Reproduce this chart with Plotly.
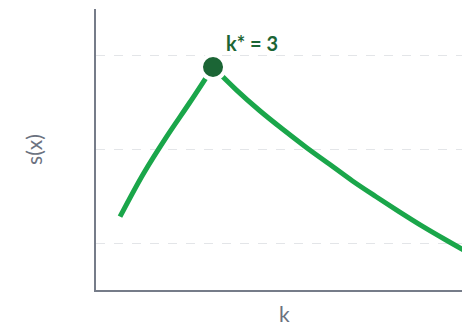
import plotly.graph_objects as go

# Score s(x), rising to the best k and falling after it
k_rise = [2.0, 2.25, 2.5, 2.75, 3.0]
s_rise = [0.256, 0.347, 0.426, 0.499, 0.5745]
k_fall = [3.0, 3.25, 3.5, 3.75, 4.0, 4.25, 4.5, 4.75, 5.0, 5.25, 5.5, 5.75]
s_fall = [0.5745, 0.526, 0.482, 0.442, 0.404, 0.368, 0.332, 0.299, 0.267, 0.236, 0.207, 0.179]

k_best = 3
s_best = 0.5745
grid_vals = [0.2, 0.4, 0.6]

LINE = "#1aa64a"
DARK = "#1b6535"
GREY = "#6b7280"
FONT = "Lato"

fig = go.Figure()
for kx, sy in ((k_rise, s_rise), (k_fall, s_fall)):
    fig.add_trace(go.Scatter(
        x=kx, y=sy, mode="lines",
        line=dict(color=LINE, width=5, shape="spline", smoothing=1.0),
        hoverinfo="skip", showlegend=False,
    ))

fig.add_trace(go.Scatter(
    x=[k_best], y=[s_best], mode="markers",
    marker=dict(size=24, color=DARK, line=dict(color="white", width=4)),
    showlegend=False, cliponaxis=False,
))

fig.add_annotation(
    x=k_best, y=s_best, text="<b>k* = 3</b>", showarrow=False,
    xanchor="left", yanchor="middle", xshift=11, yshift=24,
    font=dict(family=FONT, size=20, color=DARK),
)
fig.add_annotation(
    x=0.514, y=-0.1317, xref="paper", yref="paper", text="k", showarrow=False,
    xanchor="center", yanchor="bottom", borderpad=0,
    font=dict(family=FONT, size=21, color=GREY),
)

fig.update_layout(
    width=462, height=327,
    margin=dict(l=96, r=0, t=9, b=37),
    paper_bgcolor="white", plot_bgcolor="white",
    font=dict(family=FONT, color=GREY),
)
fig.update_xaxes(
    range=[1.742, 5.677], showgrid=False, zeroline=False,
    showticklabels=False, ticks="",
    showline=True, linecolor="#767c89", linewidth=2,
)
fig.update_yaxes(
    range=[0.1, 0.698], tickvals=grid_vals, showticklabels=False, ticks="",
    showgrid=True, gridcolor="#e3e5e8", griddash="dash", gridwidth=1,
    zeroline=False, showline=True, linecolor="#767c89", linewidth=2,
    title=dict(text="s(x)", font=dict(family=FONT, size=21, color=GREY), standoff=46),
)

fig.write_html("out.html")
